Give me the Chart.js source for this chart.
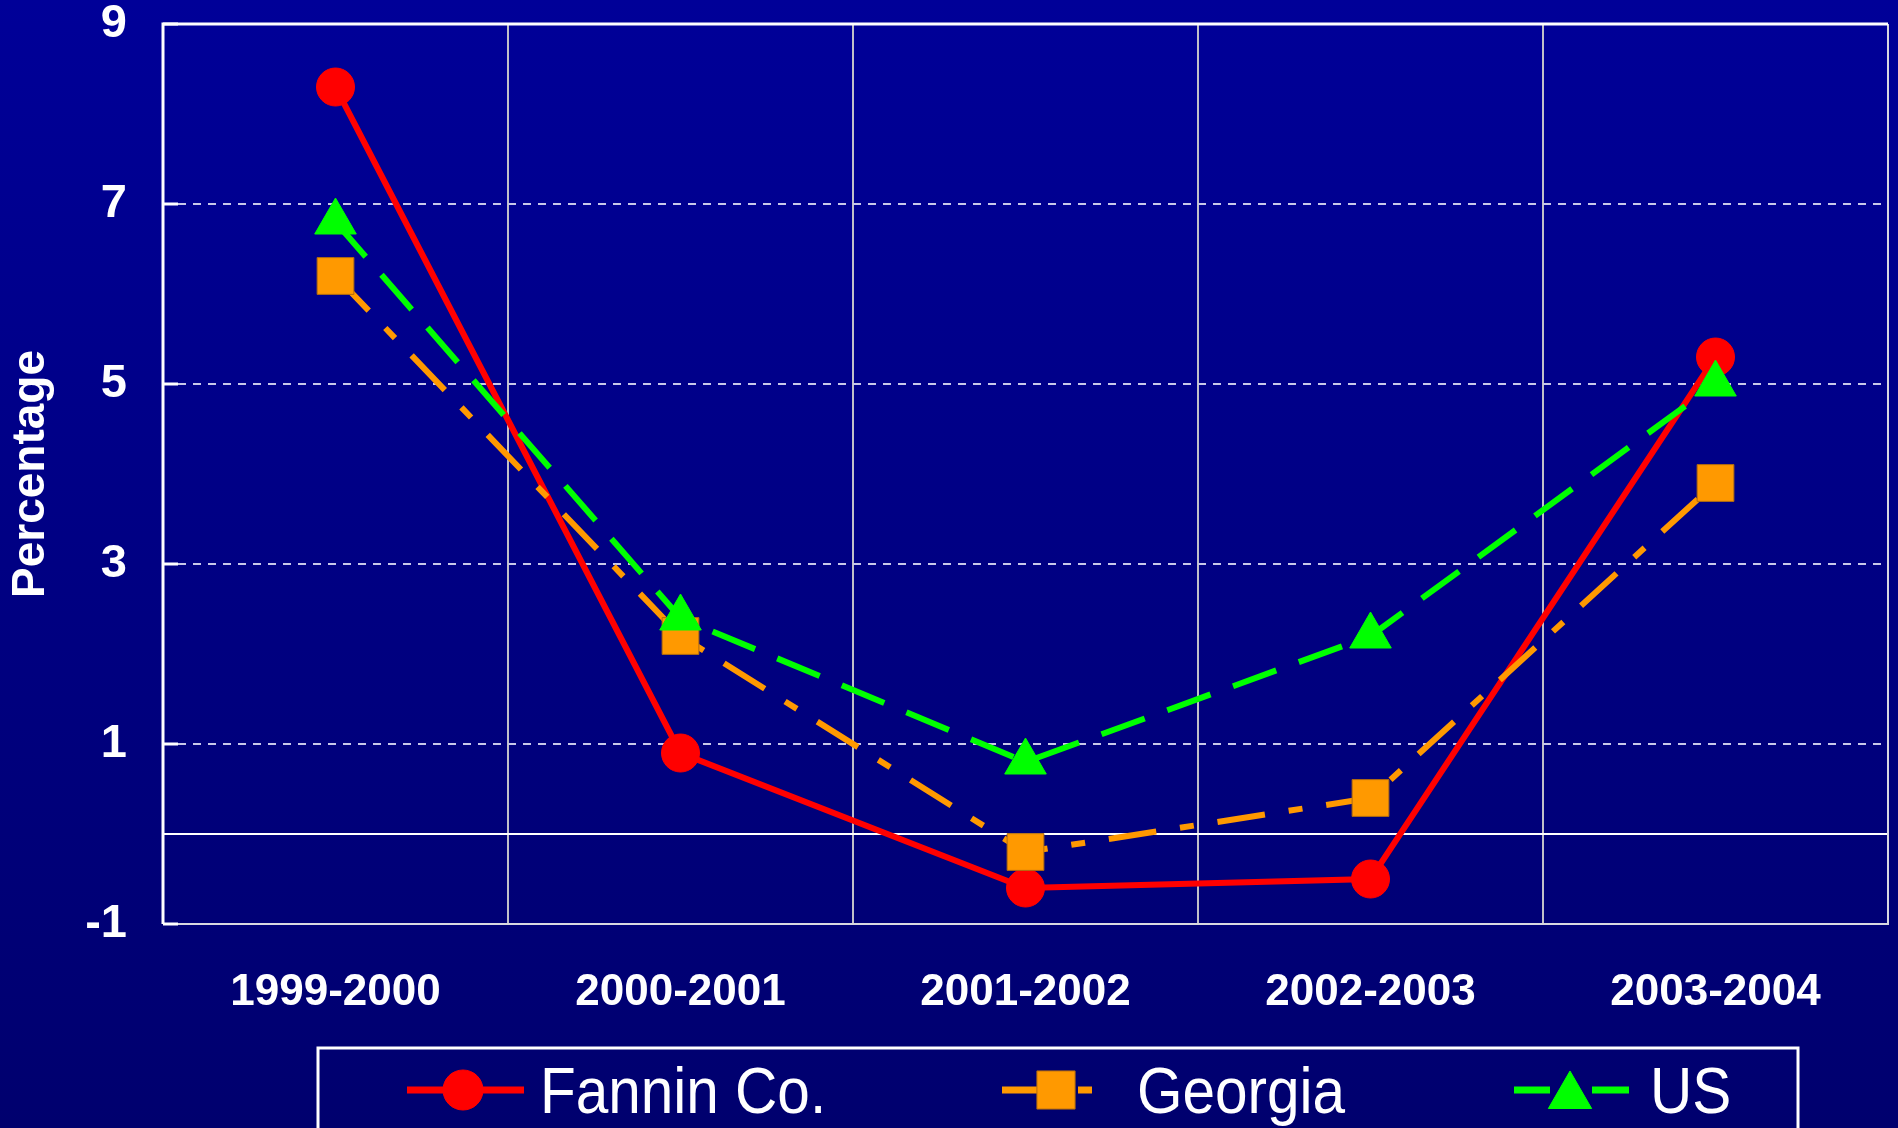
<!DOCTYPE html>
<html>
<head>
<meta charset="utf-8">
<script src="https://cdn.jsdelivr.net/npm/chart.js@4.4.1/dist/chart.umd.min.js"></script>
<style>
  html, body { margin: 0; padding: 0; background: #000080; overflow: hidden; }
  #wrap { width: 1898px; height: 1128px; position: relative; }
  #c { display: block; }
</style>
</head>
<body>
<div id="wrap"><canvas id="c"></canvas></div>
<script>
// ── データ ──────────────────────────────────────────────
const CATEGORIES = ["1999-2000", "2000-2001", "2001-2002", "2002-2003", "2003-2004"];
const FANNIN     = [8.3, 0.9, -0.6, -0.5, 5.3];
const GEORGIA    = [6.2, 2.2, -0.2, 0.4, 3.9];
const US_VALUES  = [6.8, 2.4, 0.8, 2.2, 5.0];
const Y_MIN = -1, Y_MAX = 9, Y_STEP = 2;

const FONT = "'Liberation Sans', Arial, sans-serif";

// ── 背景グラデーション ──────────────────────────────────
const bgPlugin = {
  id: "bg",
  beforeDraw(c) {
    const ctx = c.ctx;
    const g = ctx.createLinearGradient(0, 0, 0, c.height);
    g.addColorStop(0, "#000098");
    g.addColorStop(1, "#00006e");
    ctx.save();
    ctx.fillStyle = g;
    ctx.fillRect(0, 0, c.width, c.height);
    ctx.restore();
  },
};

// ── 枠線・0ライン・目盛り ───────────────────────────────
const framePlugin = {
  id: "frame",
  beforeDatasetsDraw(c) {
    const { ctx, chartArea: a, scales: { y } } = c;
    ctx.save();
    // 0 ライン
    const y0 = y.getPixelForValue(0);
    ctx.strokeStyle = "#ffffff";
    ctx.lineWidth = 2;
    ctx.beginPath();
    ctx.moveTo(a.left, y0);
    ctx.lineTo(a.right, y0);
    ctx.stroke();
    // 枠
    ctx.strokeStyle = "#d8d8e0";
    ctx.beginPath();
    ctx.moveTo(a.right, a.top);
    ctx.lineTo(a.right, a.bottom);
    ctx.lineTo(a.left, a.bottom);
    ctx.stroke();
    ctx.strokeStyle = "#ffffff";
    ctx.lineWidth = 3;
    ctx.beginPath();
    ctx.moveTo(a.left, a.bottom);
    ctx.lineTo(a.left, a.top);
    ctx.lineTo(a.right, a.top);
    ctx.stroke();
    // 内向き目盛り
    y.ticks.forEach((t) => {
      const py = y.getPixelForValue(t.value);
      ctx.beginPath();
      ctx.moveTo(a.left, py);
      ctx.lineTo(a.left + 15, py);
      ctx.stroke();
    });
    ctx.restore();
  },
};

// ── 凡例 ────────────────────────────────────────────────
const LEGEND_ITEMS = [
  { label: "Fannin Co.", ds: 0, segs: [[407, 524]],                 mx: 463,  my: 1090, tx: 540 },
  { label: "Georgia",    ds: 1, segs: [[1002, 1040], [1078, 1092]], mx: 1056, my: 1090, tx: 1137 },
  { label: "US",         ds: 2, segs: [[1514, 1550], [1592, 1629]], mx: 1570, my: 1096, tx: 1650 },
];

const legendPlugin = {
  id: "boxLegend",
  afterDraw(c) {
    const ctx = c.ctx;
    ctx.save();
    ctx.strokeStyle = "#ffffff";
    ctx.lineWidth = 3;
    ctx.strokeRect(318, 1048, 1480, 120);
    LEGEND_ITEMS.forEach((it) => {
      const d = c.data.datasets[it.ds];
      ctx.strokeStyle = d.borderColor;
      ctx.lineWidth = 7;
      ctx.lineCap = "butt";
      ctx.setLineDash([]);
      it.segs.forEach(([x1, x2]) => {
        ctx.beginPath();
        ctx.moveTo(x1, 1090);
        ctx.lineTo(x2, 1090);
        ctx.stroke();
      });
      ctx.fillStyle = d.pointBackgroundColor;
      ctx.strokeStyle = d.pointBorderColor;
      ctx.lineWidth = 1;
      Chart.helpers.drawPoint(ctx, {
        pointStyle: d.pointStyle,
        radius: d.pointRadius + 1,
        borderWidth: 1,
        rotation: 0,
      }, it.mx, it.my);
      // テキスト（やや縦長）
      ctx.save();
      ctx.fillStyle = "#ffffff";
      ctx.font = "65px " + FONT;
      ctx.textBaseline = "alphabetic";
      ctx.textAlign = "left";
      ctx.translate(it.tx, 1113);
      ctx.scale(0.9, 1);
      ctx.fillText(it.label, 0, 0);
      ctx.restore();
    });
    ctx.restore();
  },
};

// 目盛りラベル分の自動余白を消す
function noAutoPadding(s) {
  s.paddingTop = 0;
  s.paddingBottom = 0;
  s.paddingLeft = 0;
  s.paddingRight = 0;
}

// ── チャート ────────────────────────────────────────────
const chart = new Chart(document.getElementById("c"), {
  type: "line",
  plugins: [bgPlugin, framePlugin, legendPlugin],
  data: {
    labels: CATEGORIES,
    datasets: [
      {
        label: "Fannin Co.",
        data: FANNIN,
        borderColor: "#ff0000",
        borderWidth: 6,
        pointStyle: "circle",
        pointRadius: 19,
        pointBackgroundColor: "#ff0000",
        pointBorderColor: "#ff0000",
        pointBorderWidth: 1,
        order: 3,
      },
      {
        label: "Georgia",
        data: GEORGIA,
        borderColor: "#ff9900",
        borderWidth: 6,
        borderDash: [48, 24, 14, 24],
        pointStyle: "rect",
        pointRadius: 26,
        pointBackgroundColor: "#ff9900",
        pointBorderColor: "#b06a10",
        pointBorderWidth: 1,
        order: 2,
      },
      {
        label: "US",
        data: US_VALUES,
        borderColor: "#00ff00",
        borderWidth: 6,
        borderDash: [46, 24],
        pointStyle: "triangle",
        pointRadius: 24,
        pointBackgroundColor: "#00ff00",
        pointBorderColor: "#00ff00",
        pointBorderWidth: 1,
        order: 1,
      },
    ],
  },
  options: {
    responsive: true,
    maintainAspectRatio: false,
    animation: false,
    devicePixelRatio: 1,
    layout: { autoPadding: false, padding: { left: 0, top: 24, right: 10, bottom: 81 } },
    plugins: {
      legend: { display: false },
      tooltip: { enabled: false },
    },
    elements: { line: { tension: 0 } },
    scales: {
      x: {
        offset: true,
        grid: { offset: true, color: "#c0c0c8", lineWidth: 2, drawTicks: false },
        border: { display: false },
        ticks: {
          color: "#ffffff",
          font: { family: FONT, size: 44, weight: "bold" },
          padding: 42,
          maxRotation: 0,
        },
        afterFit: (s) => { s.height = 123; noAutoPadding(s); },
      },
      y: {
        min: Y_MIN,
        max: Y_MAX,
        grid: { color: "#c8c8ea", lineWidth: 2, drawTicks: false },
        border: { display: false, dash: [8, 7] },
        ticks: {
          stepSize: Y_STEP,
          color: "#ffffff",
          font: { family: FONT, size: 47, weight: "bold" },
          padding: 36,
        },
        title: {
          display: true,
          text: "Percentage",
          color: "#ffffff",
          font: { family: FONT, size: 46, weight: "bold" },
          padding: { top: 4, bottom: 0 },
        },
        afterFit: (s) => { s.width = 163; noAutoPadding(s); },
      },
    },
  },
});
</script>
</body>
</html>
